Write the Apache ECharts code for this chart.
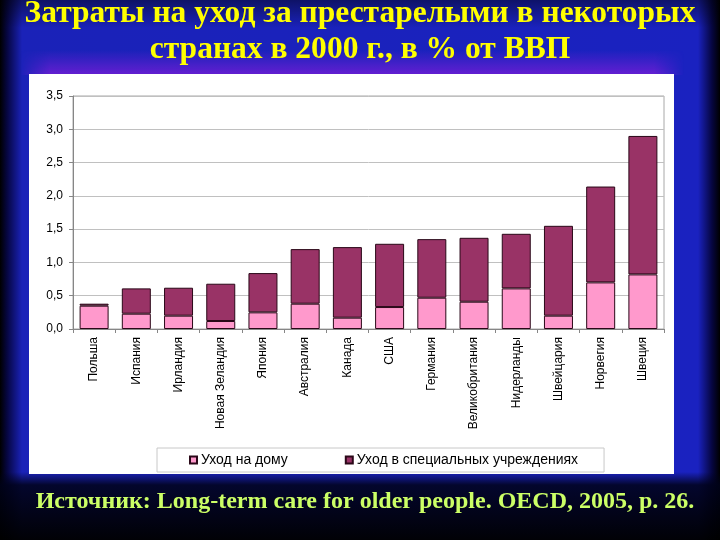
<!DOCTYPE html>
<html lang="ru">
<head>
    <meta charset="utf-8">
    <script src="https://cdn.jsdelivr.net/npm/echarts/dist/echarts.min.js"></script>
    <title>care_costs</title>
</head>
<body>
<style>
    html, body {
        width: 720px;
        height: 540px;
        margin: 0;
        overflow: hidden;
        background-color: #000;
    }
    #bg {
        position: absolute; left: 0; top: 0; width: 720px; height: 540px;
        background:
            linear-gradient(to bottom, rgba(0,0,0,0.45) 0px, rgba(0,0,0,0) 28px, rgba(0,0,0,0) 472px, rgba(0,2,25,0.88) 485px, rgba(0,0,0,0.97) 540px),
            linear-gradient(to right, #000 0px, #060640 7px, #1a22b8 22px, #1a22c0 698px, #060640 712px, #000 720px);
    }
    #glow {
        position: absolute; left: 20px; top: 50px; width: 664px; height: 25px;
        background: linear-gradient(to bottom, rgba(120,30,220,0) 0%, rgba(120,30,215,0.8) 100%);
        -webkit-mask-image: linear-gradient(to right, transparent 0px, #000 30px, #000 634px, transparent 664px);
        mask-image: linear-gradient(to right, transparent 0px, #000 30px, #000 634px, transparent 664px);
    }
    #panel {
        position: absolute; left: 29px; top: 74px; width: 645px; height: 400px;
        background: #fff;
    }
    #main {
        position: absolute; left: 0; top: 0; width: 720px; height: 540px;
    }
</style>
<div id="bg"></div>
<div id="glow"></div>
<div id="panel"></div>
<div id="main"></div>
<script>
    // данные: затраты на уход за престарелыми, % ВВП (2000 г.)
    var countries = ['Польша', 'Испания', 'Ирландия', 'Новая Зеландия', 'Япония', 'Австралия', 'Канада',
        'США', 'Германия', 'Великобритания', 'Нидерланды', 'Швейцария', 'Норвегия', 'Швеция'];
    var homeCare = [0.35, 0.23, 0.20, 0.12, 0.25, 0.38, 0.17, 0.33, 0.47, 0.41, 0.61, 0.20, 0.70, 0.82];
    var instCare = [0.03, 0.38, 0.42, 0.56, 0.59, 0.82, 1.06, 0.95, 0.88, 0.96, 0.82, 1.35, 1.44, 2.08];
    var seriesNames = ['Уход на дому', 'Уход в специальных учреждениях'];
    var yMin = 0, yMax = 3.5, yStep = 0.5;

    var titleLines = ['Затраты на уход за престарелыми в некоторых', 'странах в 2000 г., в % от ВВП'];
    var sourceText = 'Источник: Long-term care for older people. OECD, 2005, p. 26.';

    var chart = echarts.init(document.getElementById('main'));
    var option = {
        backgroundColor: 'transparent',
        animation: false,
        textStyle: {fontFamily: 'Liberation Sans, Arial, sans-serif'},
        graphic: [
            {
                type: 'text', x: 360, y: 14, scaleX: 0.985,
                style: {
                    text: titleLines[0], fill: '#ffff00',
                    font: 'bold 32px "Liberation Serif"',
                    textAlign: 'center', textVerticalAlign: 'middle',
                    textShadowColor: 'rgba(0,0,0,0.6)', textShadowOffsetX: 1, textShadowOffsetY: 1
                }
            },
            {
                type: 'text', x: 360, y: 50, scaleX: 0.985,
                style: {
                    text: titleLines[1], fill: '#ffff00',
                    font: 'bold 32px "Liberation Serif"',
                    textAlign: 'center', textVerticalAlign: 'middle',
                    textShadowColor: 'rgba(0,0,0,0.6)', textShadowOffsetX: 1, textShadowOffsetY: 1
                }
            },
            {
                type: 'text', x: 365, y: 502, scaleX: 1.0,
                style: {
                    text: sourceText, fill: '#ccff66',
                    font: 'bold 24px "Liberation Serif"',
                    textAlign: 'center', textVerticalAlign: 'middle'
                }
            }
        ],
        legend: {
            data: seriesNames,
            left: 157,
            top: 448,
            padding: [5, 26, 5, 32],
            itemGap: 57,
            itemWidth: 7,
            itemHeight: 7,
            icon: 'rect',
            backgroundColor: '#fff',
            borderColor: '#c8c8c8',
            borderWidth: 1,
            textStyle: {fontSize: 14, color: '#000', padding: [0, 0, 0, -1]}
        },
        grid: {
            left: 73, top: 96, right: 56, bottom: 211,
            show: true, borderColor: '#a8a8a8', borderWidth: 1
        },
        xAxis: {
            type: 'category',
            data: countries,
            axisLine: {lineStyle: {color: '#868686'}},
            axisTick: {show: true, length: 4, lineStyle: {color: '#868686'}},
            axisLabel: {rotate: 90, margin: 8, fontSize: 12, color: '#000', interval: 0}
        },
        yAxis: {
            type: 'value',
            min: yMin, max: yMax, interval: yStep,
            axisLine: {show: true, lineStyle: {color: '#868686'}},
            axisTick: {show: true, length: 4, lineStyle: {color: '#868686'}},
            axisLabel: {
                fontSize: 12, color: '#000', margin: 10,
                formatter: function (v) { return v.toFixed(1).replace('.', ','); }
            },
            splitLine: {lineStyle: {color: '#c0c0c0', width: 1}}
        },
        series: [
            {
                name: seriesNames[0], type: 'bar', stack: 'total',
                data: homeCare, barWidth: 29,
                itemStyle: {color: '#ff99cc', borderColor: '#2a0818', borderWidth: 1}
            },
            {
                name: seriesNames[1], type: 'bar', stack: 'total',
                data: instCare, barWidth: 29,
                itemStyle: {color: '#993366', borderColor: '#2a0818', borderWidth: 1}
            }
        ]
    };
    chart.setOption(option);
</script>
</body>
</html>
